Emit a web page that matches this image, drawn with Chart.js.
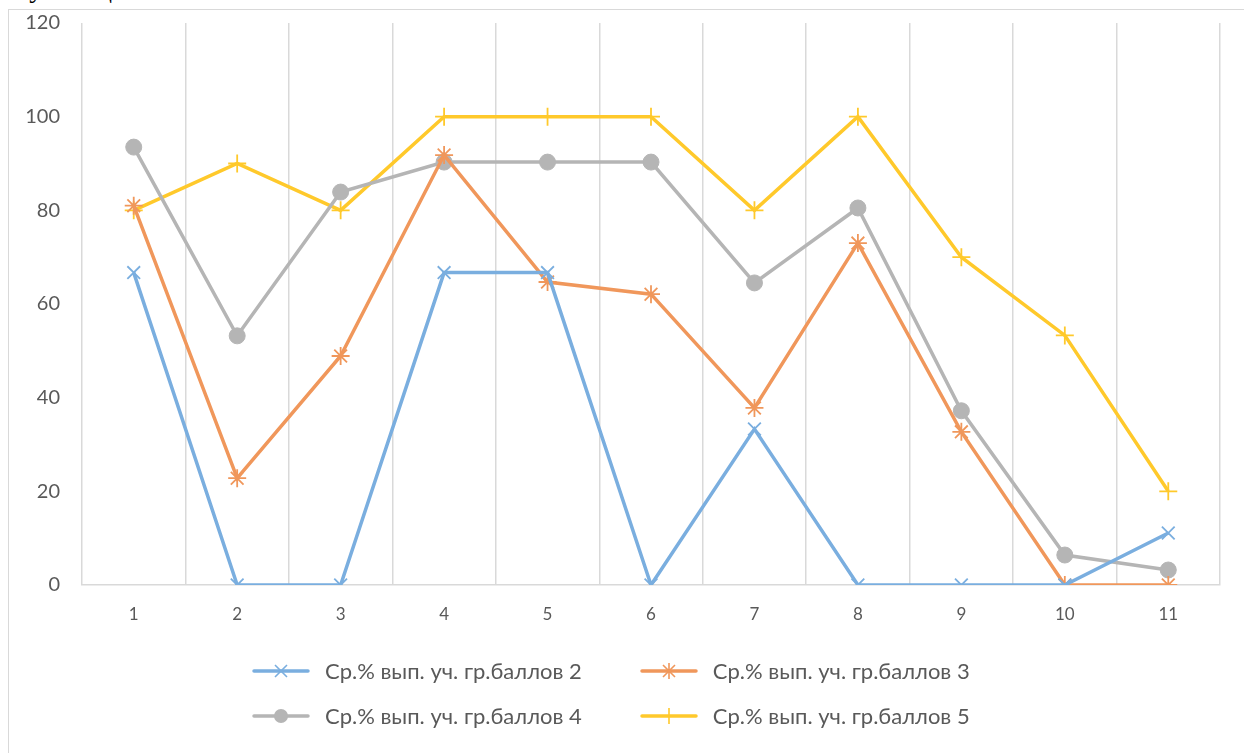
<!DOCTYPE html>
<html>
<head>
<meta charset="utf-8">
<script src="https://cdn.jsdelivr.net/npm/chart.js@4"></script>
<style>
  html, body { margin: 0; padding: 0; background: #fff; overflow: hidden; }
  #wrap { position: relative; width: 1244px; height: 753px; overflow: hidden; }
  #caption { position: absolute; left: 2px; top: -28px; font-family: "Liberation Serif", serif; font-size: 28px; color: #000; }
  #frame { position: absolute; left: 8px; top: 9px; width: 1250px; height: 760px; border-left: 1.5px solid #d9d9d9; border-top: 1.5px solid #d9d9d9; }
  #chart { position: absolute; left: 0; top: -11px; }
  #legend { position: absolute; left: 252px; top: 648px; font-family: Lato, sans-serif; font-size: 22px; color: #595959; }
  .row { height: 45px; display: flex; align-items: center; white-space: nowrap; }
  .item { display: flex; align-items: center; margin-right: 58px; }
  .item svg { margin-right: 15px; }
</style>
</head>
<body>
<div id="wrap">
  <div id="caption">обучающихся.</div>
  <div id="frame"></div>
  <canvas id="chart" width="1244" height="764"></canvas>
  <div id="legend"></div>
</div>
<script>
var categories = ['1', '2', '3', '4', '5', '6', '7', '8', '9', '10', '11'];
var seriesNames = [
    'Ср.% вып. уч. гр.баллов 2',
    'Ср.% вып. уч. гр.баллов 3',
    'Ср.% вып. уч. гр.баллов 4',
    'Ср.% вып. уч. гр.баллов 5'
];
var grade2 = [66.7, 0, 0, 66.7, 66.7, 0, 33.3, 0, 0, 0, 11.1];
var grade3 = [81, 22.8, 48.9, 91.8, 64.7, 62.1, 37.8, 73, 32.7, 0, 0];
var grade4 = [93.5, 53.2, 83.9, 90.3, 90.3, 90.3, 64.5, 80.5, 37.2, 6.4, 3.2];
var grade5 = [80, 90, 80, 100, 100, 100, 80, 100, 70, 53.3, 20];
var yTicks = [0, 20, 40, 60, 80, 100, 120];

var colors = ['#7aaedf', '#f0975b', '#b5b5b5', '#ffc92b'];
var markers = ['crossRot', 'star', 'circle', 'cross'];

function makeSet(i, data) {
    var isCircle = markers[i] === 'circle';
    return {
        label: seriesNames[i],
        data: data,
        borderColor: colors[i],
        backgroundColor: colors[i],
        borderWidth: 3.5,
        pointStyle: markers[i],
        pointRadius: isCircle ? 8 : 9,
        pointBorderWidth: isCircle ? 1 : 1.8,
        pointBorderColor: colors[i],
        pointBackgroundColor: colors[i],
        tension: 0
    };
}

window.onload = function() {
    var ctx = document.getElementById('chart').getContext('2d');
    var myChart = new Chart(ctx, {
        type: 'line',
        data: {
            labels: categories,
            datasets: [
                makeSet(0, grade2),
                makeSet(1, grade3),
                makeSet(2, grade4),
                makeSet(3, grade5)
            ]
        },
        options: {
            responsive: false,
            animation: false,
            layout: { padding: { top: 13, right: 24, left: 0, bottom: 0 } },
            plugins: {
                legend: { display: false },
                title: { display: false },
                tooltip: { enabled: false }
            },
            scales: {
                x: {
                    offset: true,
                    grid: { offset: true, color: '#d9d9d9', lineWidth: 1.5, drawTicks: false },
                    border: { color: '#d9d9d9', width: 1.5 },
                    ticks: { color: '#595959', font: { family: 'Lato', size: 17 }, padding: 19, maxRotation: 0 },
                    afterFit: function(scale) { scale.height = 764 - 596; }
                },
                y: {
                    min: 0,
                    max: 120,
                    afterBuildTicks: function(scale) {
                        scale.ticks = yTicks.map(function(v) { return { value: v }; });
                    },
                    grid: { display: false, drawTicks: false },
                    border: { display: false },
                    ticks: { color: '#595959', font: { family: 'Lato', size: 20 }, padding: 22 },
                    afterFit: function(scale) { scale.width = 82; }
                }
            }
        }
    });

    // legend with line + marker icons
    var legend = document.getElementById('legend');
    var rows = [[0, 1], [2, 3]];
    rows.forEach(function(r) {
        var row = document.createElement('div');
        row.className = 'row';
        r.forEach(function(i) {
            var item = document.createElement('div');
            item.className = 'item';
            var c = colors[i];
            var m = '';
            if (markers[i] === 'crossRot') m = '<path d="M23 4 L35 16 M35 4 L23 16" stroke="' + c + '" stroke-width="1.6"/>';
            if (markers[i] === 'star') m = '<path d="M23 4 L35 16 M35 4 L23 16 M29 2 L29 18" stroke="' + c + '" stroke-width="1.6"/>';
            if (markers[i] === 'circle') m = '<circle cx="29" cy="10" r="7" fill="' + c + '"/>';
            if (markers[i] === 'cross') m = '<path d="M29 2 L29 18" stroke="' + c + '" stroke-width="1.6"/>';
            item.innerHTML = '<svg width="58" height="20"><line x1="2" y1="10" x2="56" y2="10" stroke="' + c + '" stroke-width="3.5" stroke-linecap="round"/>' + m + '</svg><span>' + seriesNames[i] + '</span>';
            row.appendChild(item);
        });
        legend.appendChild(row);
    });
};
</script>
</body>
</html>
